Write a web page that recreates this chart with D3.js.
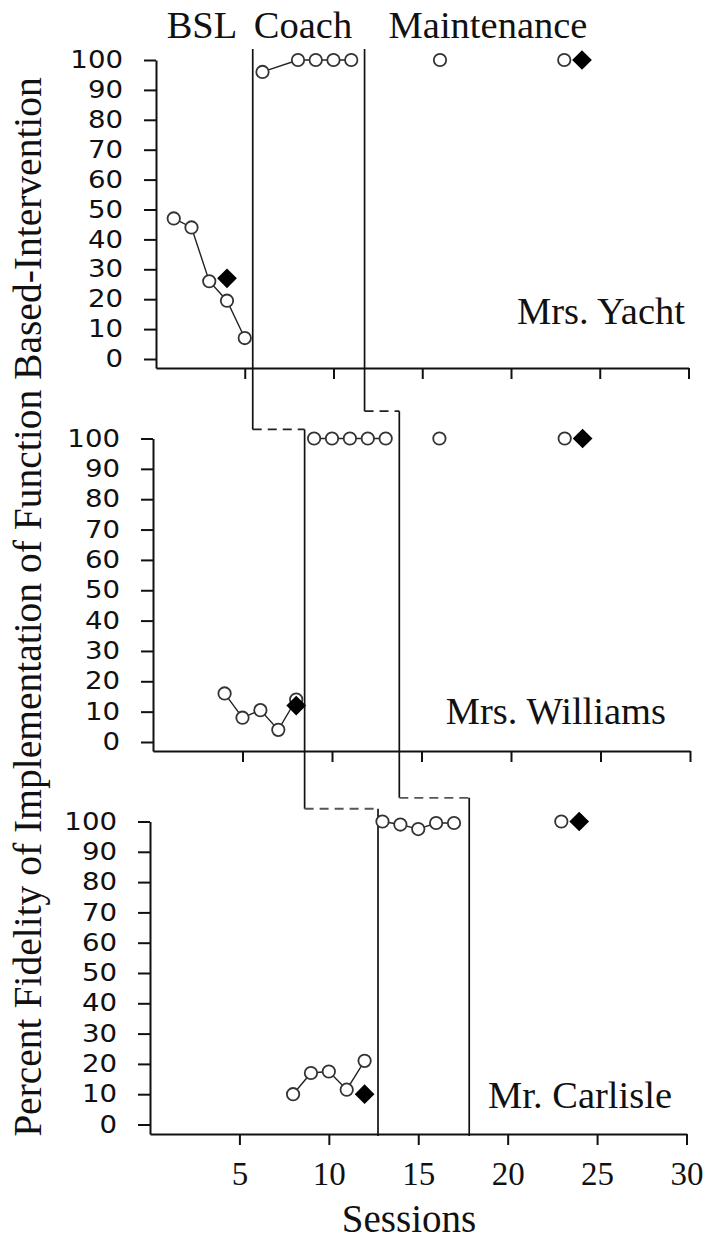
<!DOCTYPE html>
<html><head><meta charset="utf-8">
<script src="https://cdn.jsdelivr.net/npm/d3@7"></script>
<style>
html,body{margin:0;padding:0;background:#fff;}
svg{display:block;}
</style></head><body>
<svg id="chart" width="706" height="1240"></svg>
<script>
// ---------- data ----------
const sessionTicks = [5, 10, 15, 20, 25, 30];
const percentTicks = [0, 10, 20, 30, 40, 50, 60, 70, 80, 90, 100];
const phaseNames = ["BSL", "Coach", "Maintenance"];
const teacherNames = ["Mrs. Yacht", "Mrs. Williams", "Mr. Carlisle"];
const xTitle = "Sessions";
const yTitle = "Percent Fidelity of Implementation of Function Based-Intervention";

const yachtBaselineSessions = [1, 2, 3, 4, 5];
const yachtBaselineValues = [47, 44, 26, 19.5, 7];
const yachtCoachSessions = [6, 8, 9, 10, 11];
const yachtCoachValues = [96, 100, 100, 100, 100];
const yachtMaintenanceSessions = [16, 23];
const yachtMaintenanceValues = [100, 100];
const yachtReliabilitySessions = [4, 24];
const yachtReliabilityValues = [27, 100];
const yachtPhaseChanges = [5.45, 11.75];

const williamsBaselineSessions = [4, 5, 6, 7, 8];
const williamsBaselineValues = [16, 8, 10.5, 4, 14];
const williamsCoachSessions = [9, 10, 11, 12, 13];
const williamsCoachValues = [100, 100, 100, 100, 100];
const williamsMaintenanceSessions = [16, 23];
const williamsMaintenanceValues = [100, 100];
const williamsReliabilitySessions = [8, 24];
const williamsReliabilityValues = [12, 100];
const williamsPhaseChanges = [8.47, 13.76];

const carlisleBaselineSessions = [8, 9, 10, 11, 12];
const carlisleBaselineValues = [10, 17, 17.5, 11.5, 21];
const carlisleCoachSessions = [13, 14, 15, 16, 17];
const carlisleCoachValues = [100, 99, 97.5, 99.5, 99.5];
const carlisleMaintenanceSessions = [23];
const carlisleMaintenanceValues = [100];
const carlisleReliabilitySessions = [12, 24];
const carlisleReliabilityValues = [10, 100];
const carlislePhaseChanges = [12.75, 17.85];

// ---------- build ----------
const zip = (xs, ys) => xs.map((s, i) => ({s, v: ys[i]}));
const teachers = [
  {name: teacherNames[0], baseline: zip(yachtBaselineSessions, yachtBaselineValues), coach: zip(yachtCoachSessions, yachtCoachValues),
   maint: zip(yachtMaintenanceSessions, yachtMaintenanceValues), rel: zip(yachtReliabilitySessions, yachtReliabilityValues), phases: yachtPhaseChanges},
  {name: teacherNames[1], baseline: zip(williamsBaselineSessions, williamsBaselineValues), coach: zip(williamsCoachSessions, williamsCoachValues),
   maint: zip(williamsMaintenanceSessions, williamsMaintenanceValues), rel: zip(williamsReliabilitySessions, williamsReliabilityValues), phases: williamsPhaseChanges},
  {name: teacherNames[2], baseline: zip(carlisleBaselineSessions, carlisleBaselineValues), coach: zip(carlisleCoachSessions, carlisleCoachValues),
   maint: zip(carlisleMaintenanceSessions, carlisleMaintenanceValues), rel: zip(carlisleReliabilitySessions, carlisleReliabilityValues), phases: carlislePhaseChanges}
];

// layout (pixels)
const layouts = [
  {left: 156, right: 688.5, top: 60, zero: 359, axisY: 368, labelX: 685, labelY: 324},
  {left: 153, right: 690, top: 438.5, zero: 742, axisY: 751, labelX: 666, labelY: 724},
  {left: 150, right: 686.5, top: 821.5, zero: 1124.5, axisY: 1134, labelX: 672, labelY: 1108}
];
// step heights of the dashed connectors (in the lower panel's percent units)
const connectorLevels = [null, [103, 109], [104.2, 107.8]];
const phaseTopLevel = 103.7;

const serif = "'Liberation Serif','Times New Roman',Times,serif";
const sans = "'DejaVu Sans',Verdana,sans-serif";
const svg = d3.select("#chart");

teachers.forEach((t, i) => {
  const L = layouts[i];
  t.x = d3.scaleLinear().domain([0, 30]).range([L.left, L.right]);
  t.y = d3.scaleLinear().domain([0, 100]).range([L.zero, L.top]);
});

// ---------- phase change lines ----------
const gPhase = svg.append("g").attr("stroke", "#111").attr("stroke-width", 1.7).attr("fill", "none");
teachers.forEach((t, i) => {
  const L = layouts[i];
  t.phases.forEach((p, j) => {
    const x = t.x(p);
    const top = i === 0 ? t.y(phaseTopLevel) : t.y(connectorLevels[i][j]);
    const bottom = i < teachers.length - 1 ? teachers[i + 1].y(connectorLevels[i + 1][j]) : L.axisY + 2;
    gPhase.append("line").attr("x1", x).attr("x2", x).attr("y1", top).attr("y2", bottom);
    if (i < teachers.length - 1) {
      const nt = teachers[i + 1];
      gPhase.append("line")
        .attr("x1", x).attr("x2", nt.x(nt.phases[j]))
        .attr("y1", bottom).attr("y2", bottom)
        .attr("stroke", i === 0 ? "#222" : "#555").attr("stroke-width", 1.8).attr("stroke-dasharray", "9,6");
    }
  });
});

// ---------- axes & data ----------
teachers.forEach((t, i) => {
  const L = layouts[i];
  const g = svg.append("g");
  const yAxisScale = t.y.copy().domain([t.y.invert(L.axisY), 100]).range([L.axisY, L.top]);
  const ya = g.append("g").attr("transform", `translate(${L.left},0)`)
    .call(d3.axisLeft(yAxisScale).tickValues(percentTicks).tickSize(12).tickSizeOuter(0));
  ya.selectAll("text")
    .attr("font-family", sans).attr("font-size", 24).attr("fill", "#111")
    .attr("x", -33 / 1.15).attr("transform", "scale(1.15,1)");

  const xa = g.append("g").attr("transform", `translate(0,${L.axisY})`)
    .call(d3.axisBottom(t.x).tickValues(sessionTicks).tickSize(11).tickSizeOuter(0).tickPadding(17)
      .tickFormat(i === teachers.length - 1 ? d3.format("d") : () => ""));
  xa.selectAll("text").attr("font-family", serif).attr("font-size", 33).attr("fill", "#111");

  g.selectAll(".domain, .tick line").attr("stroke", "#111").attr("stroke-width", 2);

  const line = d3.line().x(d => t.x(d.s)).y(d => t.y(d.v));
  [t.baseline, t.coach].forEach(seg => {
    g.append("path").attr("d", line(seg)).attr("fill", "none").attr("stroke", "#222").attr("stroke-width", 1.4);
  });

  g.selectAll("circle.pt").data([...t.baseline, ...t.coach, ...t.maint]).join("circle")
    .attr("class", "pt")
    .attr("cx", d => t.x(d.s)).attr("cy", d => t.y(d.v)).attr("r", 6.2)
    .attr("fill", "#fff").attr("stroke", "#333").attr("stroke-width", 1.8);

  const diamond = d3.symbol().type(d3.symbolSquare).size(195);
  g.selectAll("path.rel").data(t.rel).join("path")
    .attr("class", "rel")
    .attr("d", diamond)
    .attr("transform", d => `translate(${t.x(d.s)},${t.y(d.v)}) rotate(45)`)
    .attr("fill", "#000");

  g.append("text").attr("x", L.labelX).attr("y", L.labelY)
    .attr("text-anchor", "end").attr("font-family", serif).attr("font-size", 38.5).attr("fill", "#111")
    .text(t.name);
});

// ---------- phase titles ----------
const phaseTitleX = [202, 303, 488];
svg.append("g").selectAll("text").data(phaseNames).join("text")
  .attr("x", (d, i) => phaseTitleX[i]).attr("y", 38)
  .attr("text-anchor", "middle").attr("font-family", serif).attr("font-size", 38.5).attr("fill", "#111")
  .text(d => d);

// ---------- axis titles ----------
svg.append("text").attr("x", 409).attr("y", 1232)
  .attr("text-anchor", "middle").attr("font-family", serif).attr("font-size", 39).attr("fill", "#111")
  .text(xTitle);
svg.append("text").attr("transform", "translate(41,607) rotate(-90)")
  .attr("text-anchor", "middle").attr("font-family", serif).attr("font-size", 39.5).attr("fill", "#111")
  .text(yTitle);
</script>
</body></html>
